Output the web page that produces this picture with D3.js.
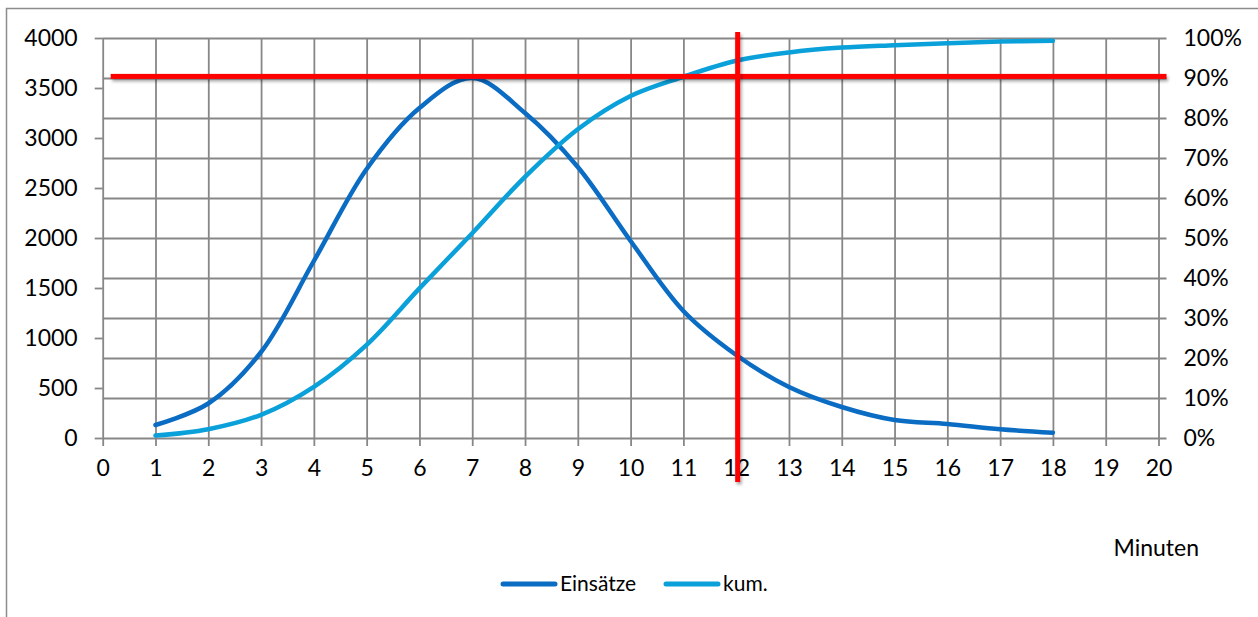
<!DOCTYPE html>
<html>
<head>
<meta charset="utf-8">
<script src="https://cdn.jsdelivr.net/npm/d3@7"></script>
<style>
  body { margin: 0; background: #fff; }
  text { font-family: Lato, "Open Sans", sans-serif; fill: #000; }
</style>
</head>
<body>
<svg id="chart" width="1258" height="617"></svg>
<script>
// data
const minutes = [1, 2, 3, 4, 5, 6, 7, 8, 9, 10, 11, 12, 13, 14, 15, 16, 17, 18];
const einsaetze = [130, 345, 860, 1770, 2690, 3300, 3600, 3250, 2710, 1970, 1270, 830, 510, 310, 180, 140, 87, 53];
const kum = [0.006, 0.022, 0.058, 0.128, 0.233, 0.374, 0.512, 0.653, 0.772, 0.855, 0.903, 0.943, 0.964, 0.976, 0.982, 0.987, 0.991, 0.993];
const leftTicks = [0, 500, 1000, 1500, 2000, 2500, 3000, 3500, 4000];
const rightTicks = [0, 0.1, 0.2, 0.3, 0.4, 0.5, 0.6, 0.7, 0.8, 0.9, 1];
const xTicks = d3.range(0, 21);
const seriesNames = ["Einsätze", "kum."];
const refLevel = 0.904;   // red horizontal line (kum. axis)
const refMinute = 12;     // red vertical line

const colDark = "#0b6cc3";
const colLight = "#0aa0da";
const gridCol = "#878787";

const svg = d3.select("#chart");

// outer chart border
svg.append("rect")
  .attr("x", 6.5).attr("y", 8.5)
  .attr("width", 1300).attr("height", 700)
  .attr("fill", "none").attr("stroke", "#8c8c8c").attr("stroke-width", 1.5);

const x = d3.scaleLinear().domain([0, 20]).range([102.7, 1158.5]);
const yL = d3.scaleLinear().domain([0, 4000]).range([438, 38]);
const yR = d3.scaleLinear().domain([0, 1]).range([438, 38]);

const defs = svg.append("defs");
const sh = defs.append("filter").attr("id", "shadow")
  .attr("filterUnits", "userSpaceOnUse")
  .attr("x", 0).attr("y", 0).attr("width", 1258).attr("height", 617);
sh.append("feDropShadow").attr("dx", 1.5).attr("dy", 2.5).attr("stdDeviation", 1.6)
  .attr("flood-color", "#000").attr("flood-opacity", 0.35);

// vertical grid + x ticks
svg.append("g")
  .attr("transform", `translate(0,${yR(0)})`)
  .call(d3.axisBottom(x).tickValues(xTicks).tickSize(-(yR(0) - yR(1))).tickSizeOuter(0).tickFormat(""))
  .call(g => g.select(".domain").remove())
  .call(g => g.selectAll("line").attr("stroke", gridCol).attr("stroke-width", 1.8));
svg.append("g")
  .attr("transform", `translate(0,${yR(0)})`)
  .call(d3.axisBottom(x).tickValues(xTicks).tickSize(8).tickPadding(14))
  .call(g => g.select(".domain").remove())
  .call(g => g.selectAll("line").attr("stroke", gridCol).attr("stroke-width", 1.8))
  .call(g => g.selectAll("text").style("font-size", "23px"));

// horizontal grid (right axis) + right ticks
svg.append("g")
  .attr("transform", `translate(${x(20) + 8},0)`)
  .call(d3.axisLeft(yR).tickValues(rightTicks).tickSize(x(20) + 8 - x(0)).tickFormat(""))
  .call(g => g.select(".domain").remove())
  .call(g => g.selectAll("line").attr("stroke", gridCol).attr("stroke-width", 1.8));
svg.append("g")
  .attr("transform", `translate(${x(20)},0)`)
  .call(d3.axisRight(yR).tickValues(rightTicks).tickSize(0).tickPadding(25).tickFormat(d3.format(".0%")))
  .call(g => g.select(".domain").remove())
  .call(g => g.selectAll("text").style("font-size", "23px"));

// left axis ticks
svg.append("g")
  .attr("transform", `translate(${x(0)},0)`)
  .call(d3.axisLeft(yL).tickValues(leftTicks).tickSize(8).tickPadding(17).tickFormat(d3.format("d")))
  .call(g => g.select(".domain").remove())
  .call(g => g.selectAll("line").attr("stroke", gridCol).attr("stroke-width", 1.8))
  .call(g => g.selectAll("text").style("font-size", "23px"));

// series
const lineL = d3.line().x((d, i) => x(minutes[i])).y(d => yL(d)).curve(d3.curveCatmullRom.alpha(0.5));
const lineR = d3.line().x((d, i) => x(minutes[i])).y(d => yR(d)).curve(d3.curveCatmullRom.alpha(0.5));

svg.append("path").datum(einsaetze)
  .attr("d", lineL).attr("fill", "none")
  .attr("stroke", colDark).attr("stroke-width", 4.5).attr("stroke-linecap", "round");
svg.append("path").datum(kum)
  .attr("d", lineR).attr("fill", "none")
  .attr("stroke", colLight).attr("stroke-width", 4.5).attr("stroke-linecap", "round");

// red reference lines (rects so the shadow filter has a real box)
const redW = 5;
svg.append("rect")
  .attr("x", x(0) + 8).attr("width", x(20) - x(0))
  .attr("y", yR(refLevel) - redW / 2).attr("height", redW)
  .attr("fill", "#ff0000").attr("filter", "url(#shadow)");
svg.append("rect")
  .attr("x", x(refMinute) + 1.5 - redW / 2).attr("width", redW)
  .attr("y", yR(1) - 6).attr("height", yR(0) + 44 - (yR(1) - 6))
  .attr("fill", "#ff0000").attr("filter", "url(#shadow)");

// axis title
svg.append("text")
  .attr("x", 1199).attr("y", 556)
  .attr("text-anchor", "end")
  .style("font-size", "23px")
  .text("Minuten");

// legend
const legend = svg.append("g");
const legendItems = [
  { name: seriesNames[0], color: colDark, x0: 503 },
  { name: seriesNames[1], color: colLight, x0: 666 }
];
legendItems.forEach(it => {
  legend.append("line")
    .attr("x1", it.x0).attr("x2", it.x0 + 52)
    .attr("y1", 584).attr("y2", 584)
    .attr("stroke", it.color).attr("stroke-width", 5).attr("stroke-linecap", "round");
  legend.append("text")
    .attr("x", it.x0 + 57).attr("y", 591)
    .style("font-size", "21px")
    .text(it.name);
});
</script>
</body>
</html>
